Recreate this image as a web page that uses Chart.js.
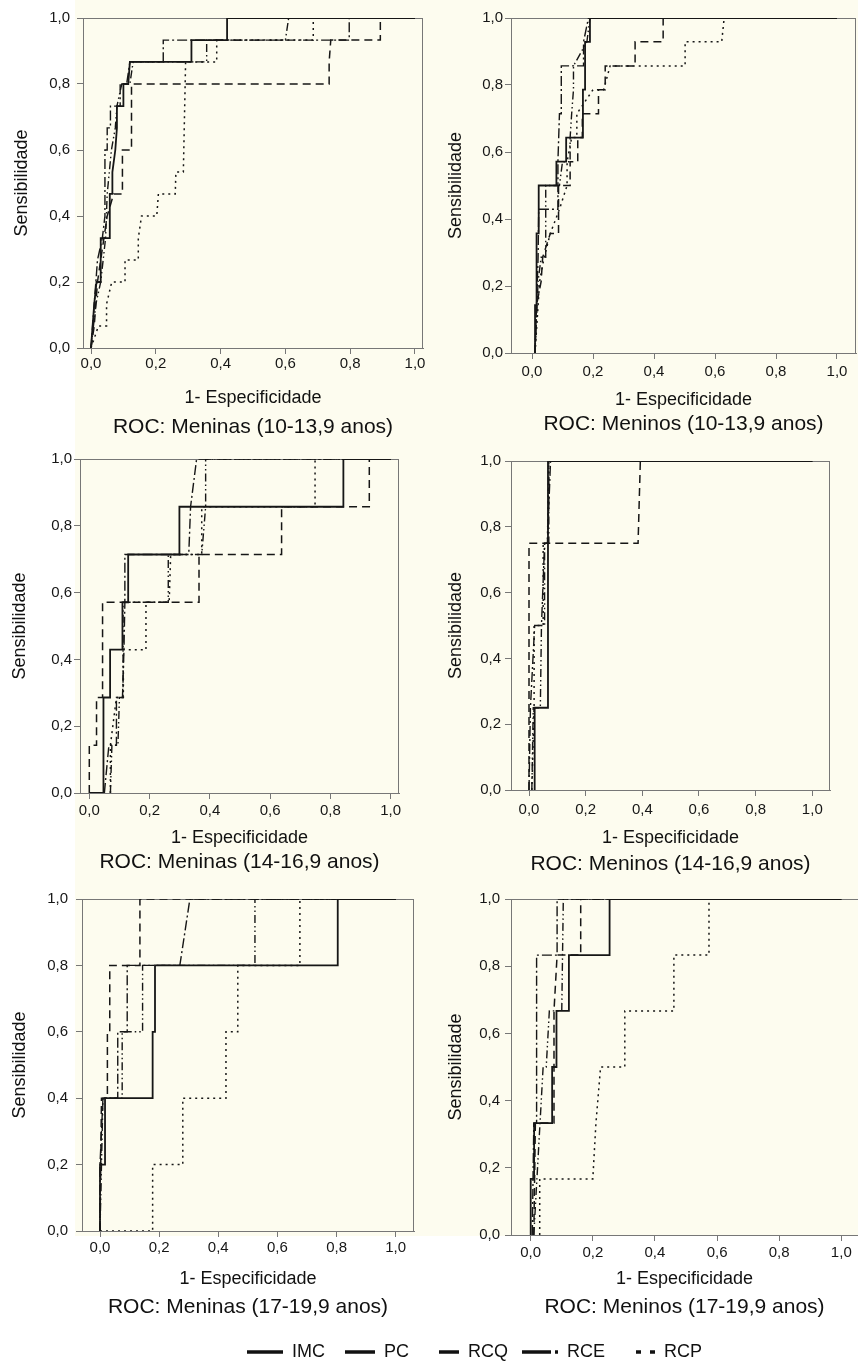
<!DOCTYPE html>
<html>
<head>
<meta charset="utf-8">
<script src="https://cdn.jsdelivr.net/npm/chart.js/dist/chart.umd.min.js"></script>
<style>
  body { margin: 0; background: #fff; }
  #page { position: relative; width: 858px; height: 1364px; overflow: hidden; }
  .cream { position: absolute; background: #fdfcef; }
  canvas { position: absolute; }
</style>
</head>
<body>
<div id="page">
  <div class="cream" style="left:75px;top:0;width:783px;height:1236px"></div>
  <canvas id="p1"></canvas>
  <canvas id="p2"></canvas>
  <canvas id="p3"></canvas>
  <canvas id="p4"></canvas>
  <canvas id="p5"></canvas>
  <canvas id="p6"></canvas>
  <canvas id="legend"></canvas>
</div>
<script>
const seriesNames = ["IMC", "PC", "RCQ", "RCE", "RCP"];
const panelTitles = [
  "ROC: Meninas (10-13,9 anos)",
  "ROC: Meninos (10-13,9 anos)",
  "ROC: Meninas (14-16,9 anos)",
  "ROC: Meninos (14-16,9 anos)",
  "ROC: Meninas (17-19,9 anos)",
  "ROC: Meninos (17-19,9 anos)"
];
const tickValues = [0, 0.2, 0.4, 0.6, 0.8, 1];

// ROC points: [1 - especificidade, sensibilidade]
// Meninas 10-13,9
const f10_IMC = [[0,0],[0.005,0.067],[0.01,0.133],[0.017,0.2],[0.03,0.2],[0.03,0.333],[0.058,0.333],[0.058,0.467],[0.066,0.467],[0.066,0.533],[0.075,0.6],[0.08,0.667],[0.08,0.733],[0.1,0.733],[0.1,0.8],[0.115,0.8],[0.12,0.867],[0.31,0.867],[0.31,0.933],[0.42,0.933],[0.42,1],[1,1]];
const f10_PC = [[0,0],[0.01,0.067],[0.02,0.2],[0.03,0.267],[0.04,0.333],[0.05,0.4],[0.07,0.467],[0.097,0.467],[0.097,0.6],[0.125,0.6],[0.125,0.8],[0.735,0.8],[0.735,0.867],[0.74,0.933],[0.893,0.933],[0.893,1],[1,1]];
const f10_RCQ = [[0,0],[0.015,0.133],[0.03,0.2],[0.045,0.333],[0.05,0.467],[0.063,0.6],[0.075,0.667],[0.08,0.733],[0.095,0.8],[0.12,0.8],[0.13,0.867],[0.357,0.867],[0.357,0.933],[0.6,0.933],[0.61,1],[1,1]];
const f10_RCE = [[0,0],[0.01,0.133],[0.02,0.267],[0.035,0.333],[0.043,0.4],[0.043,0.6],[0.05,0.6],[0.05,0.667],[0.06,0.667],[0.06,0.733],[0.09,0.733],[0.09,0.8],[0.11,0.8],[0.12,0.867],[0.223,0.867],[0.223,0.933],[0.797,0.933],[0.797,1],[1,1]];
const f10_RCP = [[0,0],[0.023,0.067],[0.048,0.067],[0.048,0.133],[0.064,0.2],[0.105,0.2],[0.105,0.267],[0.146,0.267],[0.146,0.333],[0.156,0.4],[0.203,0.4],[0.208,0.467],[0.26,0.467],[0.262,0.533],[0.285,0.533],[0.292,0.867],[0.388,0.867],[0.388,0.933],[0.686,0.933],[0.686,1],[1,1]];
// Meninos 10-13,9
const m10_IMC = [[0.01,0],[0.01,0.143],[0.015,0.143],[0.015,0.357],[0.022,0.357],[0.022,0.5],[0.08,0.5],[0.08,0.571],[0.112,0.571],[0.112,0.643],[0.167,0.643],[0.167,0.786],[0.174,0.786],[0.174,0.929],[0.19,0.929],[0.19,1],[1,1]];
const m10_PC = [[0.01,0],[0.015,0.143],[0.03,0.214],[0.035,0.286],[0.06,0.357],[0.087,0.357],[0.087,0.5],[0.125,0.5],[0.125,0.571],[0.15,0.571],[0.15,0.643],[0.165,0.643],[0.165,0.714],[0.218,0.714],[0.218,0.786],[0.24,0.786],[0.24,0.857],[0.338,0.857],[0.338,0.929],[0.43,0.929],[0.43,1],[1,1]];
const m10_RCQ = [[0.01,0],[0.02,0.214],[0.03,0.286],[0.045,0.286],[0.045,0.5],[0.09,0.5],[0.1,0.571],[0.125,0.571],[0.125,0.643],[0.13,0.714],[0.136,0.786],[0.136,0.857],[0.18,0.929],[0.19,1],[1,1]];
const m10_RCE = [[0.01,0],[0.015,0.143],[0.02,0.286],[0.022,0.429],[0.085,0.429],[0.085,0.571],[0.09,0.714],[0.096,0.714],[0.096,0.857],[0.169,0.857],[0.169,0.929],[0.185,1],[1,1]];
const m10_RCP = [[0.01,0],[0.025,0.214],[0.04,0.286],[0.06,0.357],[0.09,0.429],[0.115,0.5],[0.115,0.571],[0.13,0.643],[0.147,0.643],[0.147,0.714],[0.2,0.786],[0.235,0.786],[0.256,0.857],[0.502,0.857],[0.502,0.929],[0.622,0.929],[0.63,1],[1,1]];
// Meninas 14-16,9
const f14_IMC = [[0,0],[0.047,0],[0.047,0.286],[0.069,0.286],[0.069,0.429],[0.11,0.429],[0.11,0.571],[0.129,0.571],[0.129,0.714],[0.299,0.714],[0.299,0.857],[0.843,0.857],[0.843,1],[1,1]];
const f14_PC = [[0,0],[0,0.143],[0.024,0.143],[0.024,0.286],[0.044,0.286],[0.044,0.571],[0.364,0.571],[0.364,0.714],[0.638,0.714],[0.638,0.857],[0.929,0.857],[0.929,1],[1,1]];
const f14_RCQ = [[0.07,0],[0.075,0.143],[0.095,0.143],[0.1,0.286],[0.112,0.286],[0.112,0.571],[0.262,0.571],[0.262,0.714],[0.373,0.714],[0.386,0.857],[0.386,1],[1,1]];
const f14_RCE = [[0.05,0],[0.065,0.143],[0.09,0.143],[0.09,0.286],[0.11,0.286],[0.115,0.429],[0.118,0.571],[0.118,0.714],[0.33,0.714],[0.336,0.857],[0.356,1],[1,1]];
const f14_RCP = [[0.07,0],[0.07,0.143],[0.09,0.286],[0.113,0.286],[0.113,0.429],[0.188,0.429],[0.188,0.571],[0.265,0.571],[0.27,0.714],[0.373,0.714],[0.373,0.857],[0.749,0.857],[0.749,1],[1,1]];
// Meninos 14-16,9
const m14_IMC = [[0.02,0],[0.02,0.25],[0.067,0.25],[0.067,1],[1,1]];
const m14_PC = [[0,0],[0,0.75],[0.385,0.75],[0.393,1],[1,1]];
const m14_RCQ = [[0.01,0],[0.015,0.25],[0.04,0.25],[0.044,0.5],[0.055,0.5],[0.055,0.75],[0.07,0.75],[0.07,1],[1,1]];
const m14_RCE = [[0,0],[0.005,0.25],[0.02,0.5],[0.044,0.5],[0.055,0.75],[0.065,0.75],[0.076,1],[1,1]];
const m14_RCP = [[0.01,0],[0.018,0.25],[0.018,0.5],[0.05,0.5],[0.05,0.75],[0.065,0.75],[0.07,1],[1,1]];
// Meninas 17-19,9
const f17_IMC = [[0,0],[0,0.2],[0.017,0.2],[0.017,0.4],[0.178,0.4],[0.178,0.6],[0.186,0.6],[0.186,0.8],[0.804,0.8],[0.804,1],[1,1]];
const f17_PC = [[0,0],[0.005,0.4],[0.025,0.4],[0.025,0.6],[0.033,0.6],[0.033,0.8],[0.135,0.8],[0.135,1],[1,1]];
const f17_RCQ = [[0,0],[0.005,0.2],[0.01,0.4],[0.075,0.4],[0.075,0.6],[0.144,0.6],[0.144,0.8],[0.524,0.8],[0.524,1],[1,1]];
const f17_RCE = [[0,0],[0,0.2],[0.01,0.4],[0.06,0.4],[0.06,0.6],[0.092,0.6],[0.092,0.8],[0.27,0.8],[0.304,1],[1,1]];
const f17_RCP = [[0,0],[0.178,0],[0.178,0.2],[0.28,0.2],[0.28,0.4],[0.426,0.4],[0.426,0.6],[0.466,0.6],[0.466,0.8],[0.676,0.8],[0.676,1],[1,1]];
// Meninos 17-19,9
const m17_IMC = [[0,0],[0,0.167],[0.011,0.167],[0.011,0.333],[0.069,0.333],[0.069,0.5],[0.083,0.5],[0.083,0.667],[0.123,0.667],[0.123,0.833],[0.254,0.833],[0.254,1],[1,1]];
const m17_PC = [[0.01,0],[0.015,0.333],[0.075,0.333],[0.075,0.667],[0.085,0.833],[0.161,0.833],[0.161,1],[1,1]];
const m17_RCQ = [[0.01,0],[0.03,0.333],[0.04,0.5],[0.05,0.5],[0.06,0.667],[0.1,0.667],[0.105,1],[1,1]];
const m17_RCE = [[0.005,0],[0.01,0.333],[0.019,0.333],[0.019,0.833],[0.085,0.833],[0.085,1],[1,1]];
const m17_RCP = [[0.029,0],[0.029,0.167],[0.2,0.167],[0.21,0.333],[0.225,0.5],[0.303,0.5],[0.303,0.667],[0.461,0.667],[0.461,0.833],[0.574,0.833],[0.574,1],[1,1]];

const FONT = "'Liberation Sans', Arial, Helvetica, sans-serif";
const INK = "#161616";
const AXIS = "#777777";
const TICK_SIZE = 15, AXIS_TITLE_SIZE = 18, TITLE_SIZE = 21;
Chart.defaults.font.family = FONT;
Chart.defaults.color = INK;

const lineStyles = {
  IMC: { dash: [], width: 1.8 },
  PC: { dash: [8, 5], width: 1.5 },
  RCQ: { dash: [8, 3, 1.5, 3, 1.5, 3], width: 1.4 },
  RCE: { dash: [10, 3, 2, 3], width: 1.4 },
  RCP: { dash: [2, 4], width: 1.5 }
};

// page placement of each panel (canvas box, plot area, where 0 and 1 fall on x, text rows)
const panels = [
  { id: "p1", series: [f10_IMC, f10_PC, f10_RCQ, f10_RCE, f10_RCP], x: 0, y: 0, w: 428,
    area: [83, 18, 423, 348], x0px: 91, x1px: 415, tickY: 364, xTitleY: 398, titleY: 427, yTitleX: 22, yLabelRight: 70 },
  { id: "p2", series: [m10_IMC, m10_PC, m10_RCQ, m10_RCE, m10_RCP], x: 428, y: 0, w: 430,
    area: [511, 18, 856, 353], x0px: 532, x1px: 837, tickY: 372, xTitleY: 400, titleY: 424, yTitleX: 456, yLabelRight: 503 },
  { id: "p3", series: [f14_IMC, f14_PC, f14_RCQ, f14_RCE, f14_RCP], x: 0, y: 440, w: 428,
    area: [80, 459, 399, 793], x0px: 89.3, x1px: 390.7, tickY: 811, xTitleY: 838, titleY: 862, yTitleX: 20, yLabelRight: 72 },
  { id: "p4", series: [m14_IMC, m14_PC, m14_RCQ, m14_RCE, m14_RCP], x: 428, y: 440, w: 430,
    area: [511, 461, 830, 790], x0px: 529, x1px: 812.3, tickY: 810, xTitleY: 838, titleY: 864, yTitleX: 456, yLabelRight: 501 },
  { id: "p5", series: [f17_IMC, f17_PC, f17_RCQ, f17_RCE, f17_RCP], x: 0, y: 880, w: 428,
    area: [82, 899, 414, 1231], x0px: 100, x1px: 395.7, tickY: 1248, xTitleY: 1279, titleY: 1307, yTitleX: 20, yLabelRight: 68 },
  { id: "p6", series: [m17_IMC, m17_PC, m17_RCQ, m17_RCE, m17_RCP], x: 428, y: 880, w: 430,
    area: [511, 899, 858, 1235], x0px: 530.7, x1px: 841.3, tickY: 1253, xTitleY: 1279, titleY: 1307, yTitleX: 456, yLabelRight: 500, noRight: true }
];

const fmt = v => Number(v).toFixed(1).replace(".", ",");

// top and right edges of the plot box
const frameBox = {
  id: "frameBox",
  beforeDatasetsDraw(chart, args, opts) {
    const { ctx, chartArea: a } = chart;
    ctx.save();
    ctx.strokeStyle = AXIS;
    ctx.lineWidth = 1;
    ctx.beginPath();
    ctx.moveTo(a.left, a.top + 0.5);
    ctx.lineTo(a.right, a.top + 0.5);
    if (!opts.noRight) {
      ctx.moveTo(a.right - 0.5, a.top);
      ctx.lineTo(a.right - 0.5, a.bottom);
    }
    ctx.stroke();
    ctx.restore();
  }
};

panels.forEach((p, idx) => {
  const [L, T, R, B] = p.area;
  const unit = p.x1px - p.x0px;
  const xMin = (L - p.x0px) / unit;
  const xMax = 1 + (R - p.x1px) / unit;
  const hx = p.xTitleY - B + AXIS_TITLE_SIZE * 0.6;
  const titlePad = Math.max(0, p.titleY - (B + hx) - TITLE_SIZE * 0.6);
  const titleH = titlePad + TITLE_SIZE * 1.2;
  const h = Math.ceil(B - p.y + hx + titleH + 2);

  const canvas = document.getElementById(p.id);
  canvas.width = p.w;
  canvas.height = h;
  canvas.style.left = p.x + "px";
  canvas.style.top = p.y + "px";

  new Chart(canvas, {
    type: "line",
    data: {
      datasets: seriesNames.map((name, i) => ({
        label: name,
        data: p.series[i].map(([x, y]) => ({ x, y })),
        borderColor: INK,
        borderWidth: lineStyles[name].width,
        borderDash: lineStyles[name].dash,
        pointRadius: 0,
        tension: 0,
        fill: false
      }))
    },
    options: {
      responsive: false,
      animation: false,
      devicePixelRatio: 1,
      layout: { padding: { left: 0, top: T - p.y, right: p.x + p.w - R, bottom: h - (B - p.y) - hx - titleH } },
      plugins: {
        legend: { display: false },
        tooltip: { enabled: false },
        frameBox: { noRight: !!p.noRight },
        title: {
          display: true, text: panelTitles[idx], position: "bottom", fullSize: false,
          color: "#111", font: { size: TITLE_SIZE, weight: "normal" }, padding: { top: titlePad, bottom: 0 }
        }
      },
      scales: {
        x: {
          type: "linear", min: xMin, max: xMax,
          afterBuildTicks: s => { s.ticks = tickValues.map(v => ({ value: v })); },
          afterFit: s => { s.height = hx; s.paddingLeft = 0; s.paddingRight = 0; },
          grid: { drawOnChartArea: false, drawTicks: true, tickLength: 6, color: AXIS },
          border: { display: true, color: AXIS },
          ticks: { padding: Math.max(0, p.tickY - B - 6 - TICK_SIZE * 0.6), color: INK, font: { size: TICK_SIZE }, maxRotation: 0, autoSkip: false, callback: v => fmt(v) },
          title: { display: true, text: "1- Especificidade", color: "#111", font: { size: AXIS_TITLE_SIZE }, padding: { top: 0, bottom: 0 } }
        },
        y: {
          type: "linear", min: 0, max: 1,
          afterBuildTicks: s => { s.ticks = tickValues.map(v => ({ value: v })); },
          afterFit: s => { s.width = L - p.x; s.paddingTop = 0; s.paddingBottom = 0; },
          grid: { drawOnChartArea: false, drawTicks: true, tickLength: 6, color: AXIS },
          border: { display: true, color: AXIS },
          ticks: { padding: L - p.yLabelRight - 6, color: INK, font: { size: TICK_SIZE }, autoSkip: false, callback: v => fmt(v) },
          title: { display: true, text: "Sensibilidade", color: "#111", font: { size: AXIS_TITLE_SIZE }, padding: { top: Math.max(0, p.yTitleX - p.x - AXIS_TITLE_SIZE * 0.6), bottom: 0 } }
        }
      }
    },
    plugins: [frameBox]
  });
});

// legend strip under the panels; sample lines are 36px, drawn left to right
const legendDash = [[], [0, 6, 30, 60], [0, 16, 20, 60], [29, 4, 3, 60], [0, 17, 5, 9, 5, 60]];
const legendCanvas = document.getElementById("legend");
legendCanvas.width = 858;
legendCanvas.height = 90;
legendCanvas.style.left = "0px";
legendCanvas.style.top = "1329px";
new Chart(legendCanvas, {
  type: "line",
  data: { datasets: seriesNames.map(name => ({ label: name, data: [], borderColor: INK })) },
  options: {
    responsive: false,
    animation: false,
    devicePixelRatio: 1,
    layout: { padding: { left: 233, top: 0 } },
    scales: { x: { display: false }, y: { display: false } },
    plugins: {
      tooltip: { enabled: false },
      legend: {
        display: true, position: "top", align: "start",
        labels: {
          usePointStyle: true, pointStyle: "line", pointStyleWidth: 36, padding: 14,
          color: "#111", font: { size: 18 },
          generateLabels: () => seriesNames.map((name, i) => ({
            text: name, pointStyle: "line", strokeStyle: "#111", fillStyle: "#111",
            lineWidth: 3.5, lineDash: legendDash[i], datasetIndex: i, fontColor: "#111"
          }))
        }
      }
    }
  }
});
</script>
</body>
</html>
